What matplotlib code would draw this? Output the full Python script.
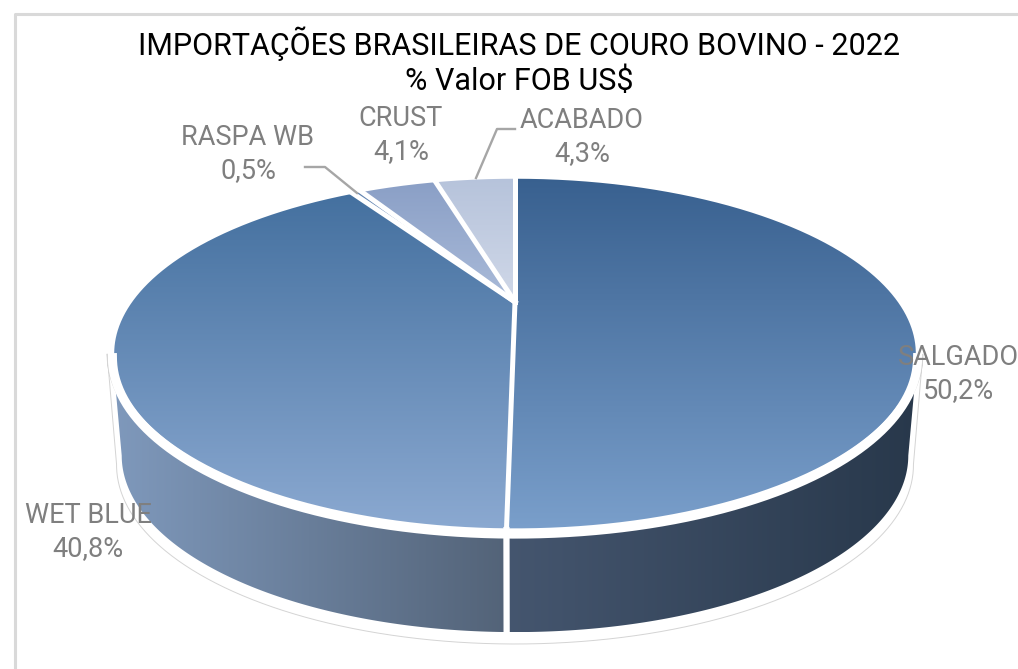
import numpy as np
import matplotlib
matplotlib.use("Agg")
import matplotlib.pyplot as plt
from matplotlib.colors import LinearSegmentedColormap
from matplotlib.patches import Polygon

plt.rcParams["font.family"] = ["Roboto", "DejaVu Sans"]

# data
labels = ["SALGADO", "WET BLUE", "RASPA WB", "CRUST", "ACABADO"]
values = [50.2, 40.8, 0.5, 4.1, 4.3]
value_labels = ["50,2%", "40,8%", "0,5%", "4,1%", "4,3%"]
title = "IMPORTAÇÕES BRASILEIRAS DE COURO BOVINO - 2022\n% Valor FOB US$"

top_colors = [("#38608f", "#7a9fcb"), ("#44709f", "#8ba9d1"), ("#5f82b0", "#7f9ac2"),
              ("#8a9fc6", "#aabbd9"), ("#b6c3db", "#d0d8e8")]
# left to right on screen
side_colors = [("#45566f", "#28384b"), ("#7f99bc", "#536378")]
label_pos = [(958, 374), (88, 532), (248, 154), (401, 135), (582, 137)]

# perspective of the pie plane
cx, cy = 515, 302
A, B, k = 385.0, 161.5, 0.292
depth = 102
shrink = 0.977


def project(theta, r=1.0):
    X = r*np.sin(theta)
    Y = r*np.cos(theta)
    w = 1 + k*Y
    return cx + A*X/w, cy - B*Y/w


def lower(x, y, extra=0):
    # bottom rim: same curve moved down, a bit narrower
    return cx + (x - cx)*shrink, y + depth + extra


def fill_gradient(ax, xs, ys, c0, c1, horizontal=False):
    pts = np.column_stack([xs, ys])
    patch = Polygon(pts, closed=True, fc="none", ec="none", transform=ax.transData)
    ax.add_patch(patch)
    cmap = LinearSegmentedColormap.from_list("g", [c0, c1])
    grad = np.linspace(0, 1, 256)
    grad = grad[None, :] if horizontal else grad[:, None]
    im = ax.imshow(grad, cmap=cmap, aspect="auto", origin="upper", interpolation="bilinear",
                   extent=(xs.min(), xs.max(), ys.max(), ys.min()), zorder=2)
    im.set_clip_path(patch)


fig = plt.figure(figsize=(10.18, 6.69), dpi=100)
ax = fig.add_axes([0, 0, 1, 1])

# slice edges, clockwise from the top
edges = 2*np.pi*np.concatenate([[0], np.cumsum(values)])/np.sum(values)
edges[-1] = 2*np.pi

t = np.linspace(0, 2*np.pi, 1441)
rx, ry = project(t)
right = t[np.argmax(rx)]
left = t[np.argmin(rx)]

# side wall
seam = edges[1]
for (a, b), (c0, c1) in zip([(right, seam), (seam, left)], side_colors):
    tt = np.linspace(a, b, 300)
    x, y = project(tt)
    lx, ly = lower(x, y)
    xs = np.concatenate([x, lx[::-1]])
    ys = np.concatenate([y, ly[::-1]])
    fill_gradient(ax, xs, ys, c0, c1, horizontal=True)

# white gap under the rim and at the seam
tf = np.linspace(right, left, 300)
fx, fy = project(tf)
ax.plot(fx, fy + 4, color="white", lw=6.5, zorder=3)
sx, sy = project(seam)
sx2, sy2 = lower(sx, sy)
ax.plot([sx, sx2], [sy, sy2], color="white", lw=4.5, zorder=3)

# top face
for i, (c0, c1) in enumerate(top_colors):
    tt = np.linspace(edges[i], edges[i+1], 300)
    x, y = project(tt)
    xs = np.concatenate([[cx], x])
    ys = np.concatenate([[cy], y])
    fill_gradient(ax, xs, ys, c0, c1)
    ax.plot([cx, x[0]], [cy, y[0]], color="white", lw=3.6, zorder=4)
ax.plot(rx, ry, color="white", lw=2.5, zorder=4)

# thin outline around the whole pie
tb = np.linspace(left, right, 400)
bx, by = project(tb, 1.012)
fx2, fy2 = project(tf, 1.012)
lx2, ly2 = lower(fx2, fy2, 8)
ax.plot(np.concatenate([bx, lx2, bx[:1]]), np.concatenate([by, ly2, by[:1]]),
        color="#d4d4d4", lw=0.7, zorder=1)

# leader lines
ax.plot([305, 325, 357], [167, 167, 193], color="#a6a6a6", lw=1.7, zorder=5)
ax.plot([515, 497, 476], [129, 129, 178], color="#a6a6a6", lw=1.7, zorder=5)

for name, val, (lx, ly) in zip(labels, value_labels, label_pos):
    ax.text(lx, ly, name + "\n" + val, ha="center", va="center", fontsize=19.5, color="#7f7f7f",
            linespacing=1.3, zorder=6)

ax.text(519, 61, title, ha="center", va="center", fontsize=22, color="black",
        linespacing=1.22, zorder=6)

# chart frame, cut by the picture on the right and bottom
ax.plot([15, 15, 1018], [669, 14, 14], color="#d9d9d9", lw=2.2, zorder=0)

ax.set_xlim(0, 1018)
ax.set_ylim(669, 0)
ax.axis("off")
fig.savefig("out.png", dpi=100)
